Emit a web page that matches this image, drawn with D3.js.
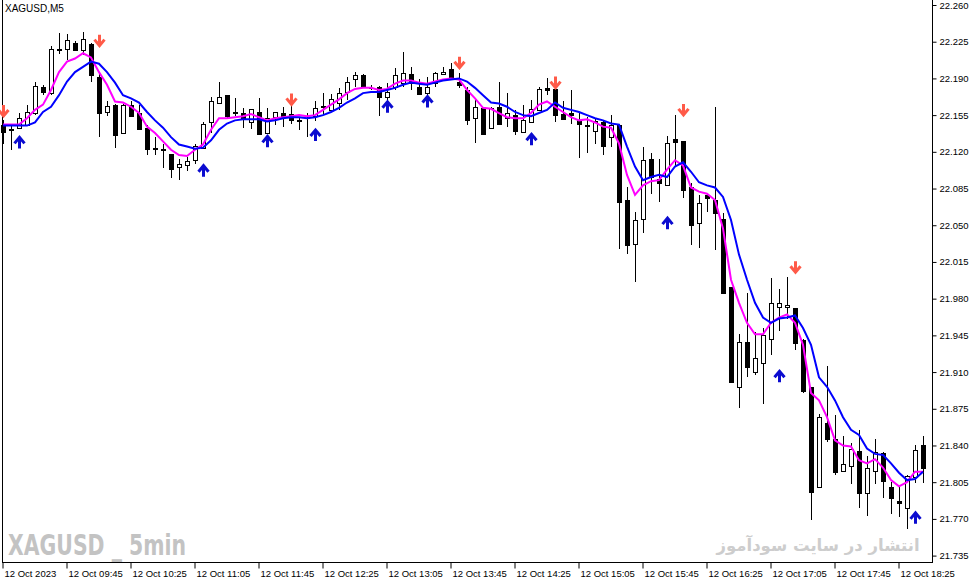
<!DOCTYPE html>
<html><head><meta charset="utf-8">
<script src="https://cdn.jsdelivr.net/npm/d3@7"></script>
<style>html,body{margin:0;padding:0;background:#fff;overflow:hidden}svg{display:block}</style>
</head><body>
<svg id="chart" width="972" height="584"></svg>
<script>
const symbolTitle = "XAGUSD,M5";
const times = ["09:05","09:10","09:15","09:20","09:25","09:30","09:35","09:40","09:45","09:50","09:55","10:00","10:05","10:10","10:15","10:20","10:25","10:30","10:35","10:40","10:45","10:50","10:55","11:00","11:05","11:10","11:15","11:20","11:25","11:30","11:35","11:40","11:45","11:50","11:55","12:00","12:05","12:10","12:15","12:20","12:25","12:30","12:35","12:40","12:45","12:50","12:55","13:00","13:05","13:10","13:15","13:20","13:25","13:30","13:35","13:40","13:45","13:50","13:55","14:00","14:05","14:10","14:15","14:20","14:25","14:30","14:35","14:40","14:45","14:50","14:55","15:00","15:05","15:10","15:15","15:20","15:25","15:30","15:35","15:40","15:45","15:50","15:55","16:00","16:05","16:10","16:15","16:20","16:25","16:30","16:35","16:40","16:45","16:50","16:55","17:00","17:05","17:10","17:15","17:20","17:25","17:30","17:35","17:40","17:45","17:50","17:55","18:00","18:05","18:10","18:15","18:20","18:25","18:30","18:35","18:40"];

const open = [22.146,22.142,22.143,22.146,22.157,22.182,22.176,22.218,22.218,22.224,22.217,22.223,22.191,22.158,22.165,22.138,22.165,22.157,22.143,22.124,22.123,22.118,22.106,22.107,22.112,22.124,22.148,22.167,22.174,22.158,22.157,22.148,22.158,22.138,22.153,22.157,22.156,22.150,22.152,22.154,22.164,22.160,22.167,22.177,22.189,22.193,22.181,22.182,22.172,22.182,22.186,22.194,22.182,22.176,22.186,22.194,22.199,22.187,22.179,22.152,22.162,22.143,22.163,22.152,22.155,22.139,22.148,22.160,22.181,22.180,22.156,22.157,22.150,22.146,22.140,22.148,22.134,22.146,22.074,22.032,22.056,22.113,22.094,22.088,22.132,22.130,22.086,22.052,22.079,22.074,22.056,21.991,21.896,21.939,21.910,21.919,21.942,21.972,21.972,21.971,21.941,21.896,21.800,21.861,21.846,21.816,21.820,21.835,21.795,21.816,21.833,21.800,21.787,21.780,21.810,21.840];
const high = [22.150,22.145,22.157,22.165,22.187,22.184,22.221,22.233,22.232,22.226,22.234,22.224,22.196,22.168,22.166,22.166,22.168,22.165,22.146,22.134,22.127,22.118,22.113,22.115,22.127,22.148,22.172,22.187,22.174,22.171,22.162,22.161,22.171,22.162,22.158,22.163,22.165,22.153,22.157,22.168,22.176,22.175,22.181,22.191,22.196,22.194,22.184,22.183,22.186,22.200,22.215,22.201,22.189,22.191,22.196,22.201,22.205,22.195,22.182,22.169,22.163,22.163,22.187,22.176,22.160,22.165,22.169,22.182,22.190,22.181,22.168,22.179,22.157,22.153,22.152,22.149,22.155,22.147,22.086,22.063,22.125,22.119,22.113,22.135,22.155,22.130,22.090,22.079,22.081,22.163,22.062,21.991,21.946,21.985,21.948,21.952,22.000,21.989,22.001,21.971,21.942,21.896,21.870,21.916,21.869,21.849,21.842,21.855,21.830,21.846,21.834,21.805,21.800,21.812,21.840,21.849];
const low = [22.127,22.122,22.142,22.145,22.155,22.174,22.174,22.213,22.208,22.216,22.212,22.187,22.134,22.154,22.124,22.137,22.153,22.141,22.117,22.117,22.105,22.095,22.093,22.102,22.108,22.123,22.138,22.166,22.152,22.154,22.143,22.142,22.137,22.138,22.146,22.144,22.147,22.141,22.134,22.149,22.155,22.158,22.160,22.169,22.182,22.181,22.179,22.154,22.169,22.179,22.182,22.179,22.174,22.172,22.182,22.193,22.190,22.181,22.146,22.128,22.137,22.143,22.147,22.144,22.136,22.139,22.148,22.160,22.174,22.148,22.150,22.147,22.114,22.119,22.127,22.117,22.125,22.027,22.023,21.996,22.043,22.080,22.072,22.088,22.106,22.076,22.031,22.028,22.063,22.026,21.985,21.901,21.876,21.905,21.907,21.880,21.926,21.949,21.961,21.931,21.890,21.769,21.800,21.843,21.812,21.816,21.803,21.780,21.773,21.803,21.790,21.775,21.772,21.760,21.804,21.804];
const close = [22.139,22.141,22.152,22.158,22.183,22.177,22.218,22.217,22.227,22.217,22.228,22.193,22.157,22.164,22.136,22.165,22.154,22.142,22.123,22.123,22.122,22.104,22.108,22.111,22.126,22.147,22.168,22.172,22.154,22.157,22.152,22.161,22.137,22.152,22.158,22.153,22.150,22.149,22.152,22.162,22.163,22.170,22.176,22.187,22.193,22.182,22.181,22.172,22.177,22.193,22.195,22.186,22.175,22.182,22.195,22.196,22.191,22.184,22.150,22.163,22.137,22.162,22.147,22.157,22.140,22.150,22.161,22.180,22.179,22.155,22.151,22.155,22.147,22.145,22.149,22.126,22.146,22.072,22.031,22.055,22.112,22.096,22.090,22.128,22.129,22.084,22.050,22.071,22.076,22.062,21.985,21.901,21.939,21.915,21.923,21.945,21.976,21.976,21.974,21.938,21.892,21.796,21.867,21.846,21.815,21.822,21.837,21.795,21.819,21.834,21.806,21.790,21.785,21.811,21.836,21.819];

const maFast = [22.146,22.146,22.146,22.152,22.160,22.165,22.179,22.196,22.206,22.209,22.214,22.210,22.196,22.184,22.168,22.167,22.163,22.157,22.144,22.138,22.130,22.122,22.117,22.116,22.122,22.127,22.141,22.152,22.152,22.153,22.154,22.156,22.153,22.150,22.152,22.153,22.154,22.155,22.154,22.155,22.160,22.165,22.170,22.176,22.180,22.181,22.181,22.179,22.180,22.185,22.188,22.188,22.186,22.185,22.187,22.189,22.190,22.189,22.179,22.171,22.162,22.161,22.157,22.153,22.152,22.152,22.157,22.165,22.168,22.163,22.158,22.153,22.150,22.151,22.148,22.144,22.143,22.128,22.098,22.079,22.088,22.092,22.093,22.103,22.112,22.107,22.086,22.082,22.080,22.074,22.047,21.998,21.976,21.957,21.946,21.946,21.957,21.962,21.965,21.957,21.936,21.890,21.883,21.867,21.845,21.840,21.839,21.826,21.823,21.827,21.819,21.807,21.801,21.805,21.815,21.815];
const maSlow = [22.145,22.145,22.145,22.145,22.148,22.158,22.163,22.174,22.187,22.196,22.201,22.206,22.204,22.196,22.186,22.174,22.171,22.167,22.158,22.150,22.143,22.134,22.127,22.125,22.123,22.124,22.131,22.141,22.147,22.150,22.151,22.151,22.151,22.149,22.150,22.152,22.153,22.153,22.152,22.153,22.155,22.158,22.162,22.167,22.171,22.176,22.177,22.177,22.179,22.181,22.184,22.186,22.185,22.184,22.186,22.188,22.189,22.190,22.187,22.181,22.174,22.167,22.166,22.163,22.158,22.155,22.154,22.157,22.160,22.167,22.162,22.160,22.158,22.155,22.152,22.150,22.147,22.146,22.125,22.106,22.093,22.096,22.098,22.096,22.106,22.110,22.101,22.091,22.088,22.086,22.077,22.055,22.022,21.998,21.976,21.962,21.957,21.961,21.962,21.964,21.952,21.936,21.905,21.896,21.883,21.867,21.855,21.850,21.837,21.832,21.831,21.823,21.814,21.807,21.808,21.815];

const buyIdx = [2,25,33,39,48,53,66,83,97,114];
const buyPrice = [22.129,22.102,22.130,22.136,22.163,22.168,22.132,22.052,21.906,21.771];
const sellIdx = [0,12,36,57,69,85,99];
const sellPrice = [22.159,22.226,22.170,22.205,22.186,22.160,22.010];

const priceTicks = [22.260,22.225,22.190,22.155,22.120,22.085,22.050,22.015,21.980,21.945,21.910,21.875,21.840,21.805,21.770,21.735];
const timeTickIdx = [0,8,16,24,32,40,48,56,64,72,80,88,96,104,112];
const timeTickLabels = ["12 Oct 2023","12 Oct 09:45","12 Oct 10:25","12 Oct 11:05","12 Oct 11:45","12 Oct 12:25","12 Oct 13:05","12 Oct 13:45","12 Oct 14:25","12 Oct 15:05","12 Oct 15:45","12 Oct 16:25","12 Oct 17:05","12 Oct 17:45","12 Oct 18:25"];
const watermarkLeft = "XAGUSD _ 5min";
const watermarkRight = "انتشار در سایت سودآموز";

const svg = d3.select("#chart");
const plotRight = 932, plotBottom = 562;
const x = d3.scalePoint().domain(times).range([3, 923]);
const y = d3.scaleLinear().domain([21.735, 22.260]).range([555.6, 5]);
const font = "Tahoma, 'Liberation Sans', Arial, sans-serif";

// watermarks (behind)
svg.append("text").attr("x", 8).attr("y", 555)
  .attr("font-family", "'DejaVu Sans Condensed','DejaVu Sans',sans-serif").attr("font-weight", "bold")
  .attr("font-size", 29).attr("fill", "#c3c3c3")
  .attr("textLength", 178).attr("lengthAdjust", "spacingAndGlyphs")
  .text(watermarkLeft);
svg.append("text").attr("x", 818).attr("y", 551)
  .attr("text-anchor", "middle")
  .attr("font-family", "'DejaVu Sans',sans-serif").attr("font-weight", "bold")
  .attr("font-size", 16.5).attr("fill", "#cdcdcd")
  .text(watermarkRight);

// frame
const frame = svg.append("g").attr("stroke", "#000").attr("stroke-width", 1).attr("shape-rendering", "crispEdges");
frame.append("line").attr("x1", 2.5).attr("x2", 2.5).attr("y1", 0).attr("y2", plotBottom);
frame.append("line").attr("x1", plotRight + 0.5).attr("x2", plotRight + 0.5).attr("y1", 0).attr("y2", plotBottom);
frame.append("line").attr("x1", 2).attr("x2", plotRight + 1).attr("y1", plotBottom + 0.5).attr("y2", plotBottom + 0.5);

// axes
const yAxis = d3.axisRight(y).tickValues(priceTicks).tickSize(4).tickPadding(3).tickFormat(d3.format(".3f"));
const gy = svg.append("g").attr("transform", `translate(${plotRight + 0.5},0)`).call(yAxis);
gy.select(".domain").remove();
gy.selectAll("text").attr("font-family", font).attr("font-size", 9.5).attr("fill", "#000");

const xAxis = d3.axisBottom(x).tickValues(timeTickIdx.map(i => times[i])).tickSize(6)
  .tickFormat((d, i) => timeTickLabels[i]);
const gx = svg.append("g").attr("transform", `translate(0,${plotBottom + 0.5})`).call(xAxis);
gx.select(".domain").remove();
gx.selectAll(".tick line").attr("transform", "translate(-0.5,0)");
gx.selectAll("text").attr("font-family", font).attr("font-size", 9.5).attr("fill", "#000")
  .attr("text-anchor", "start").attr("dx", 1).attr("y", 6).attr("dy", "0.9em");

// candles
const bars = d3.range(times.length).map(i => ({t: times[i], o: open[i], h: high[i], l: low[i], c: close[i]}));
const cg = svg.append("g").attr("shape-rendering", "crispEdges");
cg.selectAll("line.wick").data(bars).join("line").attr("class", "wick")
  .attr("x1", d => Math.round(x(d.t)) + 0.5).attr("x2", d => Math.round(x(d.t)) + 0.5)
  .attr("y1", d => y(d.h)).attr("y2", d => y(d.l)).attr("stroke", "#000");
cg.selectAll("rect.body").data(bars).join("rect").attr("class", "body")
  .each(function(d) {
    const cx = Math.round(x(d.t));
    const top = Math.round(y(Math.max(d.o, d.c)));
    const bot = Math.round(y(Math.min(d.o, d.c)));
    const s = d3.select(this);
    if (d.c > d.o) {
      s.attr("x", cx - 2 + 0.5).attr("y", top + 0.5).attr("width", 4).attr("height", Math.max(1, bot - top))
        .attr("fill", "#fff").attr("stroke", "#000");
    } else {
      s.attr("x", cx - 2).attr("y", top).attr("width", 5).attr("height", Math.max(1, bot - top + 1))
        .attr("fill", "#000");
    }
  });

// moving averages
const line = arr => d3.line().x((d, i) => x(times[i])).y(d => y(d))(arr);
svg.append("path").attr("d", line(maFast)).attr("fill", "none").attr("stroke", "#ff00ff").attr("stroke-width", 2);
svg.append("path").attr("d", line(maSlow)).attr("fill", "none").attr("stroke", "#0000ff").attr("stroke-width", 2);

// arrows
function arrowPath(cx, cy, dir) {
  const s = dir;
  return `M${cx},${cy - 6 * s} L${cx},${cy + 4 * s} M${cx - 5},${cy - 1 * s} L${cx},${cy + 5 * s} L${cx + 5},${cy - 1 * s}`;
}
const ag = svg.append("g");
ag.selectAll("path.sell").data(sellIdx).join("path").attr("class", "sell")
  .attr("d", (d, i) => arrowPath(Math.round(x(times[d])) + 0.5, y(sellPrice[i]), 1))
  .attr("fill", "none").attr("stroke", "#ff5a48").attr("stroke-width", 3).attr("stroke-linejoin", "miter");
ag.selectAll("path.buy").data(buyIdx).join("path").attr("class", "buy")
  .attr("d", (d, i) => arrowPath(Math.round(x(times[d])) + 0.5, y(buyPrice[i]), -1))
  .attr("fill", "none").attr("stroke", "#0b0bd0").attr("stroke-width", 3).attr("stroke-linejoin", "miter");

// title
svg.append("text").attr("x", 5).attr("y", 12).attr("font-family", font).attr("font-size", 10)
  .attr("fill", "#000").text(symbolTitle);
</script>
</body></html>
